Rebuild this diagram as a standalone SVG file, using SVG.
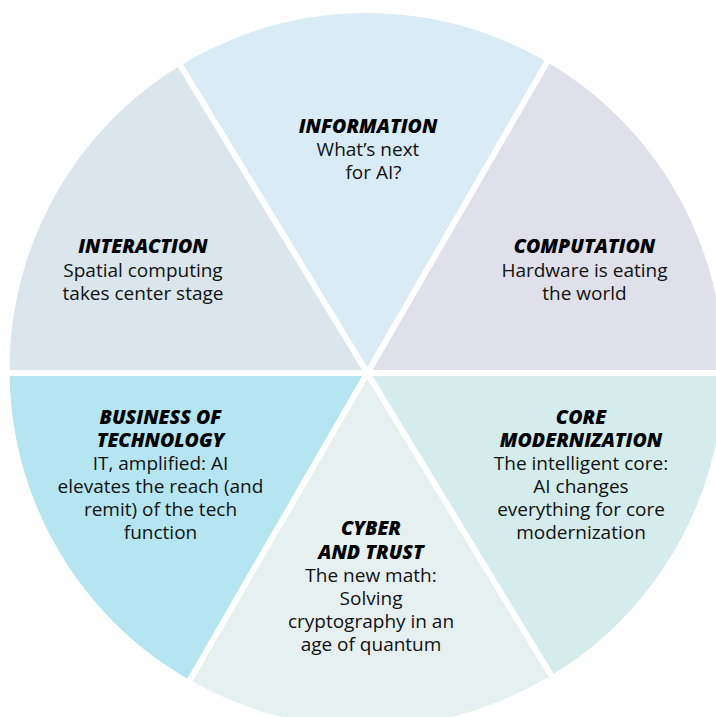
<svg xmlns="http://www.w3.org/2000/svg" width="716" height="717" viewBox="0 0 716 717">
<style>
text{font-family:"Open Sans","Liberation Sans",sans-serif;font-size:19px;text-anchor:middle;fill:#111}
.h{font-weight:800;font-style:italic;fill:#000;font-size:19.5px}
.sep{stroke:#fff;stroke-width:6;fill:none}
</style>
<defs>
<clipPath id="disc"><circle cx="366.5" cy="370" r="357"/></clipPath>
</defs>
<rect width="716" height="717" fill="#fff"/>
<g clip-path="url(#disc)">
<g id="information"><polygon points="367.3,373 128.4,-20 594.5,-20" fill="#d9ecf6"/></g>
<g id="computation"><polygon points="367.3,373 594.5,-20 740,-20 740,373" fill="#dfe0e9"/></g>
<g id="core-modernization"><polygon points="367.3,373 740,373 740,740 590.4,740" fill="#d5ecec"/></g>
<g id="cyber-and-trust"><polygon points="367.3,373 590.4,740 155.2,740" fill="#e6f0f1"/></g>
<g id="business-of-technology"><polygon points="367.3,373 155.2,740 -20,740 -20,373" fill="#b5e5f1"/></g>
<g id="interaction"><polygon points="367.3,373 -20,373 -20,-20 128.4,-20" fill="#dae5ec"/></g>
</g>
<g id="separators">
<line class="sep" x1="-10" y1="373" x2="726" y2="373"/>
<line class="sep" x1="128.4" y1="-20" x2="590.4" y2="740"/>
<line class="sep" x1="594.5" y1="-20" x2="155.2" y2="740"/>
</g>
<g id="information-text">
<text x="368" y="133"><tspan class="h">INFORMATION</tspan><tspan x="368" dy="23">What’s next</tspan><tspan x="373.5" dy="23">for AI?</tspan></text>
</g>
<g id="interaction-text">
<text x="143" y="253"><tspan class="h">INTERACTION</tspan><tspan x="143" dy="23.5">Spatial computing</tspan><tspan x="143" dy="23">takes center stage</tspan></text>
</g>
<g id="computation-text">
<text x="584.5" y="253"><tspan class="h">COMPUTATION</tspan><tspan x="584.5" dy="23.5">Hardware is eating</tspan><tspan x="584.5" dy="23">the world</tspan></text>
</g>
<g id="business-text">
<text x="160.5" y="423.5"><tspan class="h">BUSINESS OF</tspan><tspan class="h" x="160.5" dy="23">TECHNOLOGY</tspan><tspan x="160.5" dy="23">IT, amplified: AI</tspan><tspan x="160.5" dy="23">elevates the reach (and</tspan><tspan x="160.5" dy="23">remit) of the tech</tspan><tspan x="160.5" dy="23">function</tspan></text>
</g>
<g id="core-text">
<text x="581" y="423.5"><tspan class="h">CORE</tspan><tspan class="h" x="581" dy="23">MODERNIZATION</tspan><tspan x="581" dy="23">The intelligent core:</tspan><tspan x="581" dy="23">AI changes</tspan><tspan x="581" dy="23">everything for core</tspan><tspan x="581" dy="23">modernization</tspan></text>
</g>
<g id="cyber-text">
<text x="371" y="535"><tspan class="h">CYBER</tspan><tspan class="h" x="371" dy="23.5">AND TRUST</tspan><tspan x="371" dy="23.5">The new math:</tspan><tspan x="371" dy="23">Solving</tspan><tspan x="371" dy="23">cryptography in an</tspan><tspan x="371" dy="22.5">age of quantum</tspan></text>
</g>
</svg>
